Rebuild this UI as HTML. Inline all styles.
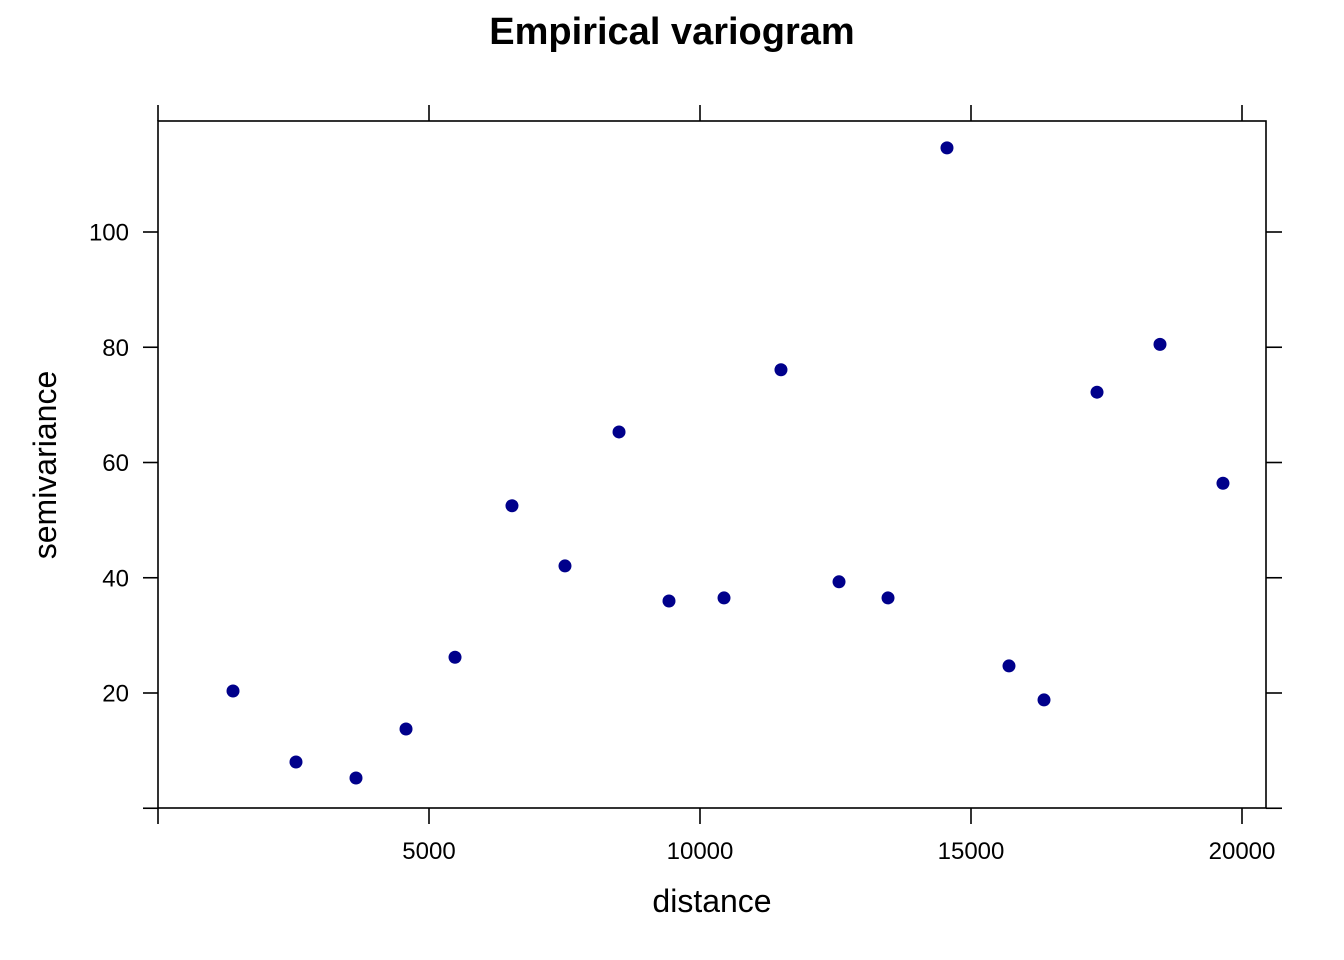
<!DOCTYPE html>
<html><head><meta charset="utf-8"><style>
html,body{margin:0;padding:0;background:#fff;}
svg{display:block;font-family:"Liberation Sans",sans-serif;}
</style></head><body>
<svg id="chart" width="1344" height="960" xmlns="http://www.w3.org/2000/svg">
<text x="672" y="44" text-anchor="middle" font-size="38" font-weight="bold">Empirical variogram</text>
<rect x="158" y="121" width="1108" height="687" fill="none" stroke="#000" stroke-width="1.6"/>
<g id="axes"></g>
<g id="points"></g>
<text x="712" y="912" text-anchor="middle" font-size="32">distance</text>
<text transform="translate(56,465) rotate(-90)" text-anchor="middle" font-size="32">semivariance</text>
</svg>
<script>
const distances=[1384,2546,3653,4576,5480,6531,7509,8506,9428,10443,11494,12565,13469,14557,15701,16347,17325,18487,19649];
const gammas=[20.35,8.03,5.25,13.75,26.2,52.5,42.05,65.3,35.97,36.5,76.1,39.3,36.5,114.6,24.7,18.8,72.2,80.5,56.4];
const xTicks=[0,5000,10000,15000,20000];
const xTickLabels=["","5000","10000","15000","20000"];
const yTicks=[0,20,40,60,80,100];
const yTickLabels=["","20","40","60","80","100"];
const NS="http://www.w3.org/2000/svg";
function xs(v){return 158+v*0.0542;}
function ys(v){return 808.25-v*5.7625;}
function mk(tag,attrs,parent){const e=document.createElementNS(NS,tag);for(const k in attrs)e.setAttribute(k,attrs[k]);parent.appendChild(e);return e;}
const ax=document.getElementById('axes');
xTicks.forEach((t,i)=>{
  const x=xs(t);
  const b=mk('line',{x1:x,x2:x,y1:808,y2:824,stroke:'#000','stroke-width':1.6},ax);
  
  
  const tp=mk('line',{x1:x,x2:x,y1:105,y2:121,stroke:'#000','stroke-width':1.6},ax);
  
  
  if(xTickLabels[i]){
    const l=mk('text',{x:x,y:859,'text-anchor':'middle','font-size':24},ax);
    l.textContent=xTickLabels[i];
    
    
  }
});
yTicks.forEach((t,i)=>{
  const y=ys(t);
  const a=mk('line',{x1:143,x2:158,y1:y,y2:y,stroke:'#000','stroke-width':1.6},ax);
  
  
  const r=mk('line',{x1:1266,x2:1282,y1:y,y2:y,stroke:'#000','stroke-width':1.6},ax);
  
  
  if(yTickLabels[i]){
    const l=mk('text',{x:129,y:y+8.5,'text-anchor':'end','font-size':24},ax);
    l.textContent=yTickLabels[i];
    
    
  }
});
const pg=document.getElementById('points');
distances.forEach((d,i)=>{
  const c=mk('circle',{cx:xs(d),cy:ys(gammas[i]),r:6.5,fill:'#00008B'},pg);
  
  
});
</script>
</body></html>
